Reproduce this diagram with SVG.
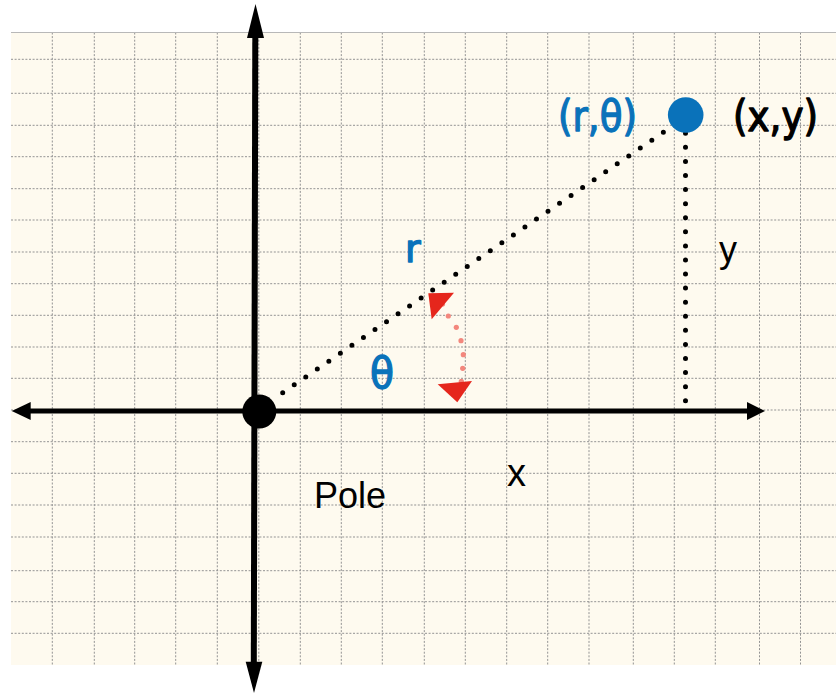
<svg xmlns="http://www.w3.org/2000/svg" width="836" height="694" viewBox="0 0 836 694">
<style>
.grid line{stroke:#939393;stroke-width:1;stroke-dasharray:2 1.6}
.comic{font-family:"DejaVu Sans","Noto Sans",sans-serif;stroke-width:1.4;stroke-linejoin:round}
.sans{font-family:"Liberation Sans",Arial,sans-serif}
.blue{fill:#0A72BA;stroke:#0A72BA}
.blk{fill:#000;stroke:#000}
.dots{fill:none;stroke:#000;stroke-width:5;stroke-linecap:round}
.pink{fill:#F3877D}
.red{fill:#E5261C}
</style>
<rect width="836" height="694" fill="#fff"/>
<g id="grid" class="grid">
<rect x="11" y="32.5" width="825" height="632.5" fill="#FEFAEF" stroke="none"/>
<line x1="52.3" y1="32.5" x2="52.3" y2="665"/>
<line x1="94.3" y1="32.5" x2="94.3" y2="665"/>
<line x1="134.7" y1="32.5" x2="134.7" y2="665"/>
<line x1="175.7" y1="32.5" x2="175.7" y2="665"/>
<line x1="217.3" y1="32.5" x2="217.3" y2="665"/>
<line x1="258.8" y1="32.5" x2="258.8" y2="665"/>
<line x1="300.3" y1="32.5" x2="300.3" y2="665"/>
<line x1="341.3" y1="32.5" x2="341.3" y2="665"/>
<line x1="382.3" y1="32.5" x2="382.3" y2="665"/>
<line x1="424.3" y1="32.5" x2="424.3" y2="665"/>
<line x1="465.3" y1="32.5" x2="465.3" y2="665"/>
<line x1="506.7" y1="32.5" x2="506.7" y2="665"/>
<line x1="547.7" y1="32.5" x2="547.7" y2="665"/>
<line x1="589" y1="32.5" x2="589" y2="665"/>
<line x1="633.3" y1="32.5" x2="633.3" y2="665"/>
<line x1="674.3" y1="32.5" x2="674.3" y2="665"/>
<line x1="715.3" y1="32.5" x2="715.3" y2="665"/>
<line x1="759.5" y1="32.5" x2="759.5" y2="665"/>
<line x1="800.5" y1="32.5" x2="800.5" y2="665"/>
<line x1="11" y1="59.3" x2="836" y2="59.3"/>
<line x1="11" y1="93.3" x2="836" y2="93.3"/>
<line x1="11" y1="125.3" x2="836" y2="125.3"/>
<line x1="11" y1="156.7" x2="836" y2="156.7"/>
<line x1="11" y1="188.7" x2="836" y2="188.7"/>
<line x1="11" y1="220" x2="836" y2="220"/>
<line x1="11" y1="252" x2="836" y2="252"/>
<line x1="11" y1="283.7" x2="836" y2="283.7"/>
<line x1="11" y1="315.3" x2="836" y2="315.3"/>
<line x1="11" y1="347" x2="836" y2="347"/>
<line x1="11" y1="378.3" x2="836" y2="378.3"/>
<line x1="11" y1="410" x2="836" y2="410"/>
<line x1="11" y1="441.7" x2="836" y2="441.7"/>
<line x1="11" y1="473.3" x2="836" y2="473.3"/>
<line x1="11" y1="505" x2="836" y2="505"/>
<line x1="11" y1="537" x2="836" y2="537"/>
<line x1="11" y1="570.7" x2="836" y2="570.7"/>
<line x1="11" y1="601.7" x2="836" y2="601.7"/>
<line x1="11" y1="633.3" x2="836" y2="633.3"/>
<line x1="11" y1="32.5" x2="836" y2="32.5" style="stroke:#b8b8b8;stroke-dasharray:none"/>
</g>
<g id="connectors">
<g id="axes" fill="#000">
<line x1="255.3" y1="36" x2="253.8" y2="663" stroke="#000" stroke-width="6"/>
<polygon points="255.5,4 247,38 264,38"/>
<polygon points="254,693 245.7,661.7 262.3,661.7"/>
<line x1="29" y1="411" x2="749" y2="411" stroke="#000" stroke-width="5"/>
<polygon points="11.7,411 30.7,402 30.7,420"/>
<polygon points="765,411 747,402 747,420"/>
</g>
<path id="r-line" class="dots" d="M282.7 392.7 L663.8 132" stroke-dasharray="0 13.976"/>
<path id="y-line" class="dots" d="M685.5 133.3 L685.5 401.3" stroke-dasharray="0 14.074"/>
<g id="theta-arc">
<circle class="pink" cx="442.5" cy="304" r="2.6"/>
<circle class="pink" cx="448.3" cy="316" r="2.6"/>
<circle class="pink" cx="456.3" cy="327.3" r="2.6"/>
<circle class="pink" cx="461" cy="340.7" r="2.6"/>
<circle class="pink" cx="463.3" cy="354.7" r="2.6"/>
<circle class="pink" cx="462.7" cy="368.3" r="2.6"/>
<circle class="pink" cx="461.3" cy="381.3" r="2.6"/>
<polygon class="red" points="428.3,293.3 454,292.7 431.7,319.3"/>
<polygon class="red" points="437.7,384.3 472,381 457.3,402.3"/>
</g>
</g>
<g id="pole">
<circle cx="259.3" cy="411.5" r="17" fill="#000"/>
<text class="sans" x="314" y="508" font-size="36" fill="#000">Pole</text>
</g>
<g id="point">
<circle cx="685.7" cy="115" r="17.8" fill="#0A72BA"/>
<text class="comic blue" x="558" y="131" font-size="42" textLength="79" lengthAdjust="spacingAndGlyphs">(r,θ)</text>
<text class="comic blk" x="733" y="131" font-size="42" textLength="85" lengthAdjust="spacingAndGlyphs">(x,y)</text>
</g>
<g id="labels">
<text class="comic blue" x="405" y="262" font-size="38">r</text>
<text class="comic blue" x="370" y="388" font-size="42" textLength="24" lengthAdjust="spacingAndGlyphs">θ</text>
<text class="sans" x="719" y="262" font-size="36" fill="#000">y</text>
<text class="sans" x="507" y="486" font-size="38" fill="#000">x</text>
</g>
</svg>
